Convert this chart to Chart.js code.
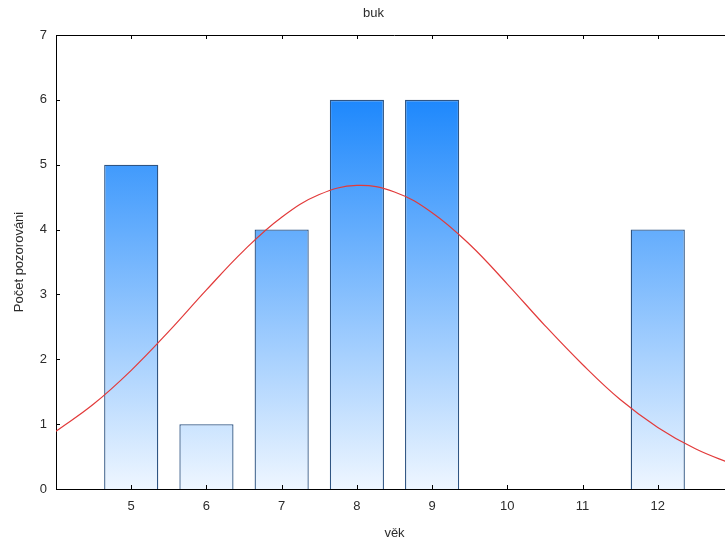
<!DOCTYPE html>
<html>
<head>
<meta charset="utf-8">
<script src="https://cdn.jsdelivr.net/npm/chart.js@4/dist/chart.umd.min.js"></script>
<style>
  html, body { margin: 0; padding: 0; background: #fff; overflow: hidden; }
  #wrap { width: 760px; height: 542px; }
</style>
</head>
<body>
<div id="wrap"><canvas id="c" width="760" height="542"></canvas></div>
<script>
// ---- data ----
const chartTitle = 'buk';
const xTitle = 'věk';
const yTitle = 'Počet pozorováni';
const ages = [5, 6, 7, 8, 9, 12];
const counts = [5, 1, 4, 6, 6, 4];
const curveX = [4, 4.5, 5, 5.5, 6, 6.5, 7, 7.5, 8, 8.5, 9, 9.5, 10, 10.5, 11, 11.5, 12, 12.5, 13];
const curveY = [0.89, 1.31, 1.83, 2.43, 3.07, 3.68, 4.19, 4.54, 4.68, 4.58, 4.26, 3.77, 3.16, 2.52, 1.92, 1.38, 0.95, 0.62, 0.38];
const xTickLabels = [5, 6, 7, 8, 9, 10, 11, 12];
const yTickLabels = [0, 1, 2, 3, 4, 5, 6, 7];

const FONT = "'Liberation Sans', Arial, sans-serif";
const TXT = '#2b2b2b';

const barData = ages.map((a, i) => ({ x: a, y: counts[i] }));
const lineData = curveX.map((a, i) => ({ x: a, y: curveY[i] }));

function barGradient(ctx) {
  const chart = ctx.chart;
  const area = chart.chartArea;
  if (!area) return '#6aaeff';
  const ys = chart.scales.y;
  const g = chart.ctx.createLinearGradient(0, ys.getPixelForValue(0), 0, ys.getPixelForValue(6));
  g.addColorStop(0, '#eef6ff');
  g.addColorStop(1, '#1e88fc');
  return g;
}

const framePlugin = {
  id: 'frame',
  afterDatasetsDraw(chart) {
    const { ctx, chartArea: a, scales } = chart;
    ctx.save();
    ctx.strokeStyle = '#000';
    ctx.lineWidth = 1;
    ctx.beginPath();
    ctx.moveTo(a.left, a.top + 0.5);
    ctx.lineTo(a.right, a.top + 0.5);
    ctx.moveTo(a.right - 0.5, a.top);
    ctx.lineTo(a.right - 0.5, a.bottom);
    xTickLabels.forEach(v => {
      const px = Math.round(scales.x.getPixelForValue(v)) + 0.5;
      ctx.moveTo(px, a.bottom);
      ctx.lineTo(px, a.bottom - 4);
      ctx.moveTo(px, a.top);
      ctx.lineTo(px, a.top + 4);
    });
    yTickLabels.forEach(v => {
      const py = Math.round(scales.y.getPixelForValue(v)) + 0.5;
      ctx.moveTo(a.left, py);
      ctx.lineTo(a.left + 4, py);
      ctx.moveTo(a.right, py);
      ctx.lineTo(a.right - 4, py);
    });
    ctx.stroke();
    ctx.restore();
  }
};

new Chart(document.getElementById('c'), {
  type: 'bar',
  data: {
    datasets: [
      {
        type: 'line',
        data: lineData,
        borderColor: '#e23a3a',
        borderWidth: 1.2,
        pointRadius: 0,
        tension: 0.4,
        fill: false,
        order: 0
      },
      {
        type: 'bar',
        data: barData,
        backgroundColor: barGradient,
        borderColor: '#2f5583',
        borderWidth: 1.3,
        barPercentage: 0.72,
        categoryPercentage: 1,
        order: 1
      }
    ]
  },
  plugins: [framePlugin],
  options: {
    responsive: false,
    animation: false,
    layout: { padding: { left: 0, right: 13, top: 0, bottom: 0 } },
    plugins: {
      legend: { display: false },
      tooltip: { enabled: false },
      title: {
        display: true,
        text: chartTitle,
        color: TXT,
        font: { family: FONT, size: 13, weight: 'normal' },
        padding: { top: 6, bottom: 13.4 }
      }
    },
    scales: {
      x: {
        type: 'linear',
        min: 4,
        max: 13,
        offset: false,
        border: { display: true, color: '#000', width: 1 },
        grid: { display: false, drawTicks: false },
        ticks: {
          stepSize: 1,
          autoSkip: false,
          maxRotation: 0,
          padding: 10,
          color: TXT,
          font: { family: FONT, size: 13 },
          callback: v => (xTickLabels.includes(v) ? String(v) : '')
        },
        title: {
          display: true,
          text: xTitle,
          color: TXT,
          font: { family: FONT, size: 13 },
          padding: { top: 0, bottom: 1 }
        },
        afterFit(scale) { scale.height = 53; }
      },
      y: {
        min: 0,
        max: 7,
        border: { display: true, color: '#000', width: 1 },
        grid: { display: false, drawTicks: false },
        ticks: {
          stepSize: 1,
          padding: 9,
          color: TXT,
          font: { family: FONT, size: 13 },
          callback: v => (yTickLabels.includes(v) ? String(v) : '')
        },
        title: {
          display: true,
          text: yTitle,
          color: TXT,
          font: { family: FONT, size: 13 },
          padding: { top: 12, bottom: 0 }
        },
        afterFit(scale) { scale.width = 56; }
      },
      yRight: {
        position: 'right',
        min: 0,
        max: 7,
        border: { display: false },
        grid: { display: false, drawTicks: false },
        ticks: { display: false },
        afterFit(scale) { scale.width = 14; }
      }
    }
  }
});
</script>
</body>
</html>
